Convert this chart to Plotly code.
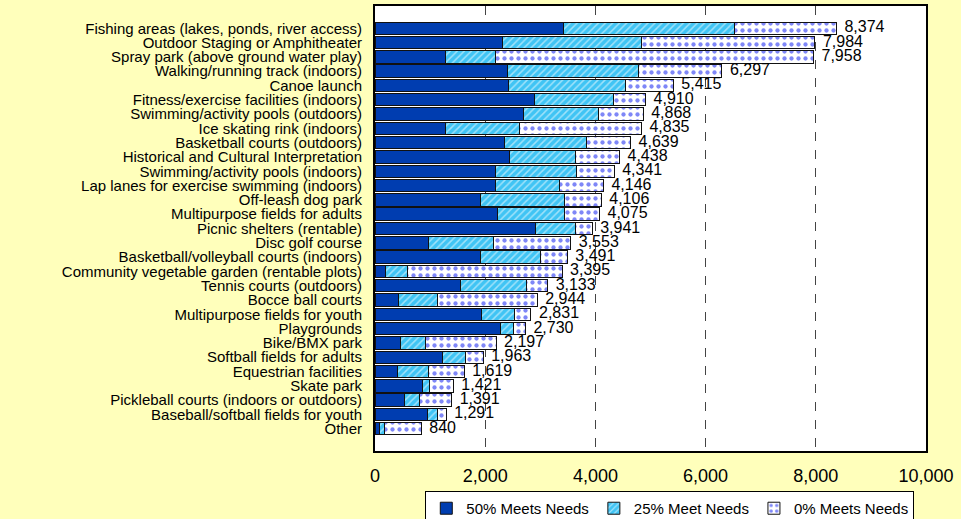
import plotly.graph_objects as go

categories = [
    "Fishing areas (lakes, ponds, river access)",
    "Outdoor Staging or Amphitheater",
    "Spray park (above ground water play)",
    "Walking/running track (indoors)",
    "Canoe launch",
    "Fitness/exercise facilities (indoors)",
    "Swimming/activity pools (outdoors)",
    "Ice skating rink (indoors)",
    "Basketball courts (outdoors)",
    "Historical and Cultural Interpretation",
    "Swimming/activity pools (indoors)",
    "Lap lanes for exercise swimming (indoors)",
    "Off-leash dog park",
    "Multipurpose fields for adults",
    "Picnic shelters (rentable)",
    "Disc golf course",
    "Basketball/volleyball courts (indoors)",
    "Community vegetable garden (rentable plots)",
    "Tennis courts (outdoors)",
    "Bocce ball courts",
    "Multipurpose fields for youth",
    "Playgrounds",
    "Bike/BMX park",
    "Softball fields for adults",
    "Equestrian facilities",
    "Skate park",
    "Pickleball courts (indoors or outdoors)",
    "Baseball/softball fields for youth",
    "Other",
]

meets_50 = [3427, 2308, 1280, 2399, 2417, 2889, 2689, 1280, 2350, 2441,
            2193, 2181, 1920, 2218, 2918, 977, 1909, 185, 1546, 421,
            1927, 2283, 457, 1231, 408, 868, 530, 947, 87]
meets_25 = [3097, 2534, 901, 2389, 2124, 1445, 1362, 1337, 1483, 1192,
            1458, 1167, 1519, 1215, 715, 1174, 1089, 410, 1198, 708,
            599, 225, 454, 406, 569, 127, 283, 182, 91]
totals = [8374, 7984, 7958, 6297, 5415, 4910, 4868, 4835, 4639, 4438,
          4341, 4146, 4106, 4075, 3941, 3553, 3491, 3395, 3133, 2944,
          2831, 2730, 2197, 1963, 1619, 1421, 1391, 1291, 840]
meets_0 = [t - a - b for t, a, b in zip(totals, meets_50, meets_25)]

series_names = ["50% Meets Needs", "25% Meet Needs", "0% Meets Needs"]
x_ticks = [0, 2000, 4000, 6000, 8000, 10000]

FONT = "Arial, Liberation Sans, sans-serif"

fig = go.Figure()
fig.add_trace(go.Bar(
    y=categories, x=meets_50, orientation="h", name=series_names[0],
    marker=dict(color="#003DB0", line=dict(color="#111111", width=1)),
    hoverinfo="x+y",
))
fig.add_trace(go.Bar(
    y=categories, x=meets_25, orientation="h", name=series_names[1],
    marker=dict(color="#40C4F4", line=dict(color="#111111", width=1),
                pattern=dict(shape="/", fgcolor="white", size=5, solidity=0.3)),
    hoverinfo="x+y",
))
fig.add_trace(go.Bar(
    y=categories, x=meets_0, orientation="h", name=series_names[2],
    marker=dict(color="white", line=dict(color="#111111", width=1),
                pattern=dict(shape=".", fgcolor="#0010F0", size=7, solidity=0.3)),
    hoverinfo="x+y",
))
fig.add_trace(go.Scatter(
    y=categories, x=totals, mode="text",
    text=[f"\u2002{t:,}" for t in totals], textposition="middle right",
    textfont=dict(family=FONT, size=16, color="black"),
    showlegend=False, hoverinfo="skip", cliponaxis=False,
))

fig.update_layout(
    barmode="stack",
    bargap=0.13,
    width=961, height=519,
    margin=dict(l=375, r=35, t=6, b=68),
    paper_bgcolor="#FFFFBB",
    plot_bgcolor="white",
    font=dict(family=FONT, color="black"),
    legend=dict(
        orientation="h", x=0.535, xanchor="center",
        yref="container", y=0.054, yanchor="top",
        bgcolor="white", bordercolor="black", borderwidth=1,
        font=dict(family=FONT, size=15, color="black"),
        itemwidth=30, tracegroupgap=0, traceorder="normal",
    ),
    xaxis=dict(
        range=[0, 10000], tickvals=x_ticks,
        ticktext=[f"{v:,}" for v in x_ticks],
        tickfont=dict(family=FONT, size=18, color="black"),
        showgrid=True, gridcolor="#444444", griddash="dash", gridwidth=1,
        zeroline=False, showline=True, linecolor="black", linewidth=2,
        mirror=True, ticks="", ticklabelstandoff=7, automargin=False,
    ),
    yaxis=dict(
        autorange="reversed", tickmode="array", tickvals=categories,
        tickfont=dict(family=FONT, size=15, color="black"),
        showline=True, linecolor="black", linewidth=2, mirror=True,
        ticks="", showgrid=False, ticklabelstandoff=8, automargin=False,
    ),
)

fig.write_html(
    "out.html",
    config={"displayModeBar": False},
    post_script="document.body.style.margin='0';document.body.style.overflow='hidden';",
)
